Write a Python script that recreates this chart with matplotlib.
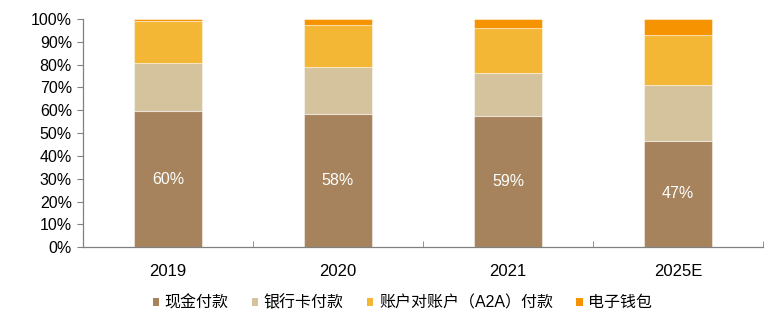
import matplotlib
matplotlib.use("Agg")
import matplotlib.pyplot as plt
import numpy as np

categories = ["2019", "2020", "2021", "2025E"]
series_names = ["现金付款", "银行卡付款", "账户对账户（A2A）付款", "电子钱包"]
cash = [59.7, 58.4, 57.6, 46.7]
card = [21.2, 20.5, 18.9, 24.5]
a2a = [18.3, 18.3, 19.6, 22.0]
wallet = [0.8, 2.8, 3.9, 6.8]
cash_labels = ["60%", "58%", "59%", "47%"]
colors = ["#A6835C", "#D4C39D", "#F4B735", "#F59300"]

plt.rcParams['font.family'] = ['Liberation Sans', 'Noto Sans CJK SC', 'DejaVu Sans']

fig = plt.figure(figsize=(7.8, 3.3), dpi=100)
ax = fig.add_axes([83/780, 1-247.3/330, 680/780, 228.3/330])

x = np.arange(len(categories))
bottom = np.zeros(len(categories))
handles = []
for vals, name, c in zip([cash, card, a2a, wallet], series_names, colors):
    b = ax.bar(x, vals, 0.4, bottom=bottom, color=c, edgecolor=(1, 1, 1, 0.45),
               linewidth=0.8, label=name)
    handles.append(b)
    bottom += np.array(vals)

for xi, v, lab in zip(x, cash, cash_labels):
    ax.text(xi, v/2, lab, ha='center', va='center', color='white', fontsize=11.5)

ax.set_xlim(-0.5, len(categories)-0.5)
ax.set_ylim(0, 100)
ax.set_yticks(np.arange(0, 101, 10))
ax.set_yticklabels([f"{v}%" for v in range(0, 101, 10)], fontsize=11.5)
ax.set_xticks(x)
ax.set_xticklabels(categories, fontsize=12)
ax.tick_params(axis='x', length=0, pad=12)
ax.set_xticks(np.arange(-0.5, len(categories)), minor=True)
ax.tick_params(axis='x', which='minor', direction='in', length=4, color='#808080')
ax.tick_params(axis='y', direction='out', length=4, color='#808080', pad=4)

for s in ['top', 'right']:
    ax.spines[s].set_visible(False)
for s in ['left', 'bottom']:
    ax.spines[s].set_color('#808080')
    ax.spines[s].set_linewidth(0.9)

leg = fig.legend(handles=handles, labels=series_names, loc='center',
                 bbox_to_anchor=(402.5/780, 1-302.5/330), ncol=4, frameon=False,
                 handlelength=0.4, handleheight=0.4, handletextpad=0.35,
                 columnspacing=1.45,
                 prop={'family': ['Liberation Sans', 'Noto Sans CJK SC', 'DejaVu Sans'], 'size': 11.5})
for h in leg.legend_handles:
    h.set_edgecolor('none')

fig.savefig("out.png", dpi=100)
